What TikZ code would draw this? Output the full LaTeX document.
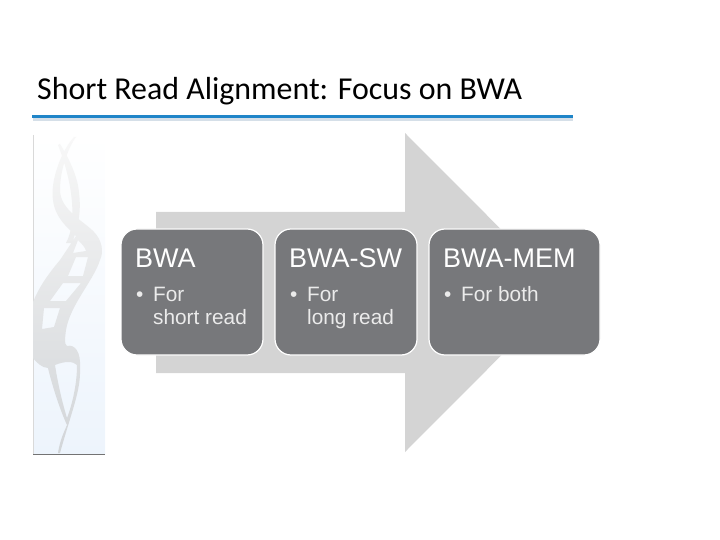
\documentclass[tikz,border=0pt]{standalone}
\usepackage{fontspec}
\setmainfont{Carlito}
\newfontfamily\boxfont{Liberation Sans}
\usepackage{tikz}
\usetikzlibrary{positioning,shapes,calc}
\definecolor{boxgray}{HTML}{77787B}
\definecolor{arrowgray}{HTML}{D4D4D4}
\definecolor{rulecolor}{HTML}{1F85C8}
\definecolor{rulefade}{HTML}{D5DFE8}
\definecolor{stripblue}{HTML}{EDF4FC}
\definecolor{helixtop}{HTML}{F8F8F8}
\definecolor{helixmid}{HTML}{E9EAEC}
\definecolor{helixlow}{HTML}{D2D5D8}
\tikzset{
  rectnode/.style args={#1,#2}{
  rounded corners=16pt,
  draw=white,
  line width=1.2pt,
  fill=boxgray,
  inner sep=0pt,
  outer sep=0pt,
  minimum width=#1 pt,
  minimum height=#2 pt,
  },
  boxhead/.style={anchor=base west,inner sep=0pt,text=white,font=\boxfont\fontsize{27}{29}\selectfont},
  boxitem/.style={anchor=base west,inner sep=0pt,text=white!92!black,font=\boxfont\fontsize{20.8}{23}\selectfont},
  helix/.style={top color=helixtop,middle color=helixmid,bottom color=helixlow,draw=none},
}

\begin{document}
\begin{tikzpicture}[x=1pt,y=-1pt]
  \useasboundingbox (0,0) rectangle (720,540);

  % side strip
  \shade [top color=white,bottom color=stripblue,draw=none] (33,135) rectangle (105,454);
  \draw [black!15,line width=0.8pt] (33.5,135) -- (33.5,454);

  % helix
  \shade [helix]
    (76,137) .. controls (68,148) and (60,170) .. (60,190)
    .. controls (60,210) and (85,222) .. (94,232) .. controls (102,240) and (104,252) .. (100,260)
    .. controls (94,280) and (70,305) .. (66,330) .. controls (65,338) and (64,344) .. (67,346)
    .. controls (75,344) and (81,352) .. (80,368) .. controls (81,390) and (72,410) .. (60,453)
    -- (58,453) .. controls (60,440) and (64,432) .. (67,425)
    .. controls (60,410) and (52,385) .. (48,368) .. controls (42,368) and (36,362) .. (33,358)
    -- (33,302) .. controls (40,285) and (50,272) .. (60,260) -- (72,242) -- (76,236)
    .. controls (68,228) and (55,218) .. (53,200) .. controls (50,180) and (62,150) .. (74,137) -- cycle
    % second strand
    (60,144) .. controls (70,160) and (78,178) .. (79,193) .. controls (82,215) and (76,232) .. (72,243)
    -- (66,243) .. controls (72,232) and (74,215) .. (71,193) .. controls (69,178) and (64,160) .. (58,145) -- cycle
    % gaps between the rungs
    (78,240) -- (73,253) -- (86,251) .. controls (85,247) and (82,244) .. (78,240) -- cycle
    (76,257) -- (68,276) -- (83,276) -- (88,257) -- cycle
    (63,283) -- (50,301) -- (66,301) -- (81,283) -- cycle
    (44,308) -- (42,329) -- (54,327) -- (60,308) -- cycle
    (55,365) .. controls (58,385) and (63,405) .. (67,418) .. controls (72,405) and (77,385) .. (77,365)
    .. controls (73,361) and (65,361) .. (55,365) -- cycle;
  \draw [black!55,line width=0.8pt] (33,454.5) -- (105,454.5);

  % title
  \node [anchor=base west,inner sep=0pt,font=\fontsize{31.9}{34}\selectfont] (title) at (37,100) {Short Read Alignment: Focus on BWA};
  \coordinate (rulel) at (32,116.5);
  \coordinate (ruler) at (573,116.5);
  \draw [rulefade,line width=2.5pt] ($(rulel)+(1,3)$) -- ($(ruler)+(0,3)$);
  \draw [rulecolor,line width=3.5pt] (rulel) -- (ruler);

  % big arrow
  \fill [arrowgray] (156,212) -- (405,212) -- (405,133) -- (564,292.5) -- (405,452) -- (405,373) -- (156,373) -- cycle;

  % boxes
  \node [rectnode={142,126},anchor=north west] (bwa) at (121,229) {};
  \node [rectnode={142,126},right=12pt of bwa] (sw) {};
  \node [rectnode={171,126},right=12pt of sw] (mem) {};

  \node [boxhead] (bwah) at ($(bwa.north west)+(14,38)$) {BWA};
  \node [boxhead] (swh) at ($(sw.north west)+(14,38)$) {BWA-SW};
  \node [boxhead] (memh) at ($(mem.north west)+(14,38)$) {BWA-MEM};

  \node [boxitem] (bwab) at ($(bwa.north west)+(15,72)$) {\textbullet};
  \node [boxitem] (bwai) at ($(bwa.north west)+(32,72)$) {For};
  \node [boxitem] (bwaj) at ($(bwai.base west)+(0,23)$) {short read};
  \node [boxitem] (swb) at ($(sw.north west)+(15,72)$) {\textbullet};
  \node [boxitem] (swi) at ($(sw.north west)+(32,72)$) {For};
  \node [boxitem] (swj) at ($(swi.base west)+(0,23)$) {long read};
  \node [boxitem] (memb) at ($(mem.north west)+(15,72)$) {\textbullet};
  \node [boxitem] (memi) at ($(mem.north west)+(32,72)$) {For both};
\end{tikzpicture}
\end{document}
